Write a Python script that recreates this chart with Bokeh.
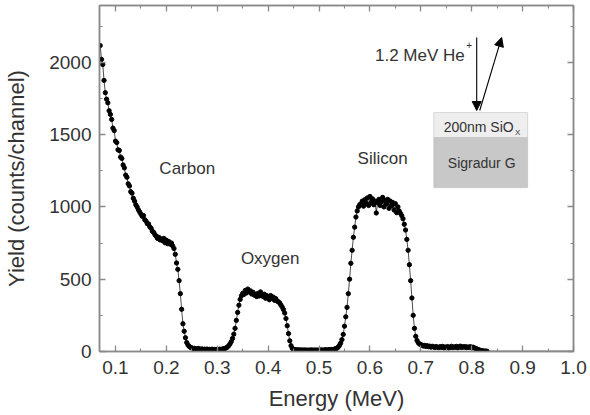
from bokeh.plotting import figure
from bokeh.models import (LinearAxis, SingleIntervalTicker, Label, BoxAnnotation,
                          Arrow, NormalHead, ColumnDataSource, PrintfTickFormatter)
from bokeh.embed import file_html
from bokeh.resources import INLINE

# ---------------- data ----------------
# RBS spectrum: channel calibration (energy of first channel, channel width, MeV)
CHANNEL0_MEV = 0.07
CHANNEL_WIDTH_MEV = 0.0025

# counts per channel, 8 channels (0.02 MeV) per row
YIELD = [
    2116, 2020, 1985, 1875, 1790, 1745, 1720, 1665,   # 0.070
    1640, 1605, 1545, 1528, 1455, 1445, 1395, 1390,   # 0.090
    1345, 1335, 1290, 1270, 1220, 1205, 1160, 1145,   # 0.110
    1105, 1095, 1060, 1040, 1015, 1000, 980, 965,     # 0.130
    950, 935, 940, 912, 902, 884, 882, 862,           # 0.150
    852, 832, 824, 808, 798, 782, 790, 772,           # 0.170
    778, 766, 782, 752, 770, 746, 760, 742,           # 0.190
    750, 730, 712, 672, 612, 568, 490, 400,           # 0.210
    292, 192, 140, 95, 62, 45, 35, 28,                # 0.230
    25, 20, 22, 18, 16, 21, 17, 15,                   # 0.250
    18, 13, 16, 14, 17, 12, 15, 13,                   # 0.270
    16, 12, 14, 11, 15, 13, 16, 14,                   # 0.290
    17, 19, 21, 25, 31, 40, 52, 68,                   # 0.310
    90, 120, 160, 215, 270, 320, 360, 385,            # 0.330
    402, 395, 422, 405, 432, 414, 420, 398,           # 0.350
    410, 390, 396, 380, 402, 384, 412, 388,           # 0.370
    380, 396, 368, 386, 375, 358, 387, 370,           # 0.390
    376, 354, 366, 349, 344, 336, 322, 308,           # 0.410
    290, 266, 228, 178, 124, 74, 40, 22,              # 0.430
    15, 12, 10, 12, 9, 11, 10, 8,                     # 0.450
    11, 9, 10, 8, 10, 9, 11, 8,                       # 0.470
    10, 9, 10, 8, 10, 9, 11, 9,                       # 0.490
    10, 12, 10, 11, 13, 12, 14, 13,                   # 0.510
    16, 19, 23, 30, 42, 58, 82, 118,                  # 0.530
    175, 240, 305, 400, 500, 610, 700, 790,           # 0.550
    860, 930, 972, 1000, 1015, 1022, 1040, 1005,      # 0.570
    1050, 1025, 1062, 1010, 1072, 1030, 1056, 1015,   # 0.590
    1040, 958, 1030, 1052, 1010, 1036, 1066, 1000,    # 0.610
    1045, 1020, 1052, 990, 1040, 1008, 1030, 978,     # 0.630
    1022, 960, 1000, 972, 955, 940, 918, 880,         # 0.650
    840, 775, 700, 600, 490, 370, 250, 160,           # 0.670
    105, 76, 60, 52, 48, 44, 38, 42,                  # 0.690
    35, 40, 33, 37, 30, 36, 32, 28,                   # 0.710
    34, 30, 27, 33, 29, 35, 26, 31,                   # 0.730
    28, 34, 25, 30, 36, 27, 32, 29,                   # 0.750
    35, 26, 31, 37, 28, 33, 30, 34,                   # 0.770
    27, 31, 29, 33, 26, 30, 24, 22,                   # 0.790
    18, 14, 10, 7, 5, 4, 3, 2,                        # 0.810
    2,                                                # 0.830
]
ENERGY = [round(CHANNEL0_MEV + i * CHANNEL_WIDTH_MEV, 4) for i in range(len(YIELD))]

# flat, empty tail of the spectrum (drawn as line only)
TAIL_ENERGY = [0.83, 1.0]
TAIL_YIELD = [2, 2]

X_TICK_STEP = 0.1
Y_TICK_STEP = 500
X_LABEL = "Energy (MeV)"
Y_LABEL = "Yield (counts/channel)"

# ---------------- styling ----------------
FONT = "Liberation Sans"
AX_COL = "#8a8a8a"
TXT_COL = "#333333"

p = figure(width=590, height=415, x_range=(0.0686, 1.0), y_range=(0, 2393),
           output_backend="svg", toolbar_location=None,
           min_border_left=99, min_border_right=17, min_border_top=5,
           min_border_bottom=64)
p.background_fill_color = "white"
p.border_fill_color = "white"
p.grid.visible = False
p.outline_line_color = AX_COL
p.outline_line_width = 1.5

src = ColumnDataSource(dict(x=ENERGY, y=YIELD))
p.line("x", "y", source=src, line_color="black", line_width=0.7)
p.scatter("x", "y", source=src, size=4.3, color="black")
p.line(TAIL_ENERGY, TAIL_YIELD, line_color="black", line_width=0.7)


def style_axis(ax, labels=True):
    ax.axis_line_color = AX_COL
    ax.axis_line_width = 1.5
    ax.major_tick_line_color = AX_COL
    ax.minor_tick_line_color = AX_COL
    ax.major_tick_line_width = 1.3
    ax.minor_tick_line_width = 1.1
    ax.major_tick_in = 6
    ax.major_tick_out = 0
    ax.minor_tick_in = 3
    ax.minor_tick_out = 0
    if labels:
        ax.major_label_text_font = FONT
        ax.major_label_text_font_size = "19px"
        ax.major_label_text_color = TXT_COL
        ax.axis_label_text_font = FONT
        ax.axis_label_text_font_size = "22px"
        ax.axis_label_text_font_style = "normal"
        ax.axis_label_text_color = TXT_COL
    else:
        ax.major_label_text_font_size = "0px"
        ax.major_label_standoff = 0
        ax.major_label_text_alpha = 0


p.xaxis.ticker = SingleIntervalTicker(interval=X_TICK_STEP, num_minor_ticks=2)
p.yaxis.ticker = SingleIntervalTicker(interval=Y_TICK_STEP, num_minor_ticks=2)
p.xaxis.formatter = PrintfTickFormatter(format="%.1f")
p.xaxis.axis_label = X_LABEL
p.yaxis.axis_label = Y_LABEL
style_axis(p.xaxis[0])
style_axis(p.yaxis[0])
p.xaxis.major_label_standoff = 9
p.xaxis.axis_label_standoff = 9
p.yaxis.major_label_standoff = 8
p.yaxis.axis_label_standoff = 17

top = LinearAxis(ticker=SingleIntervalTicker(interval=X_TICK_STEP, num_minor_ticks=2))
right = LinearAxis(ticker=SingleIntervalTicker(interval=Y_TICK_STEP, num_minor_ticks=2))
style_axis(top, labels=False)
style_axis(right, labels=False)
p.add_layout(top, "above")
p.add_layout(right, "right")

# ---------------- annotations ----------------
def lab(x, y, text, size, align="center", color=TXT_COL):
    p.add_layout(Label(x=x, y=y, text=text, text_font=FONT, text_font_size=size,
                       text_align=align, text_baseline="middle", text_color=color))

lab(0.241, 1266, "Carbon", "17px")
lab(0.404, 643, "Oxygen", "17px")
lab(0.625, 1335, "Silicon", "17px")
lab(0.7863, 2047, "1.2 MeV He", "17px", align="right")
lab(0.7895, 2120, "+", "10px", align="left")

# sample sketch
p.add_layout(BoxAnnotation(left=0.7255, right=0.9098, bottom=1134, top=1480,
                           fill_color="#c8c8c8", fill_alpha=1,
                           line_color="#9a9a9a", line_width=1.2))
p.add_layout(BoxAnnotation(left=0.7255, right=0.9098, bottom=1480, top=1653,
                           fill_color="#eeeeee", fill_alpha=1,
                           line_color="#9a9a9a", line_width=1.2))
lab(0.8137, 1556, "200nm SiO", "14px")
lab(0.8850, 1518, "X", "8px", align="left")
lab(0.8196, 1307, "Sigradur G", "14px")

p.add_layout(Arrow(end=NormalHead(size=9, fill_color="black", line_color="black"),
                   x_start=0.8098, y_start=2172, x_end=0.8098, y_end=1667,
                   line_color="black", line_width=1.1))
p.add_layout(Arrow(end=NormalHead(size=9, fill_color="black", line_color="black"),
                   x_start=0.8157, y_start=1667, x_end=0.8588, y_end=2172,
                   line_color="black", line_width=1.1))

open("out.html", "w").write(file_html(p, INLINE))
